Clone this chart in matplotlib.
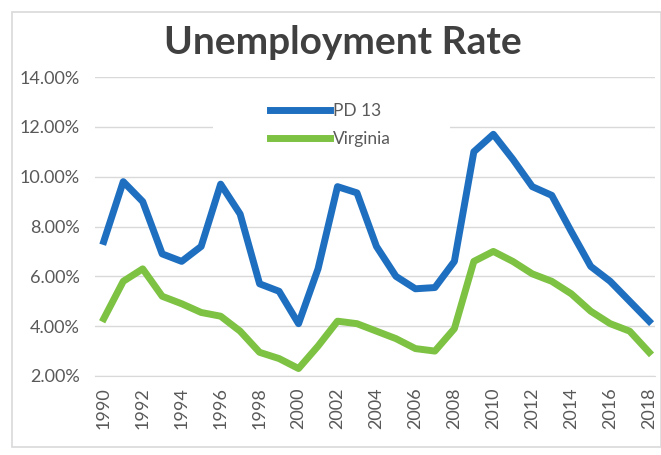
import numpy as np
import matplotlib.pyplot as plt
from matplotlib.patches import Rectangle
from matplotlib.ticker import FuncFormatter

plt.rcParams['font.family'] = ['Lato', 'DejaVu Sans']

years = list(range(1990, 2019))
pd13 = [7.4, 9.8, 9.0, 6.9, 6.6, 7.2, 9.7, 8.5, 5.7, 5.4, 4.1, 6.3, 9.6, 9.35,
        7.2, 6.0, 5.5, 5.55, 6.6, 11.0, 11.7, 10.7, 9.6, 9.25, 7.8, 6.4, 5.8,
        5.0, 4.2]
virginia = [4.3, 5.8, 6.3, 5.2, 4.9, 4.55, 4.4, 3.8, 2.95, 2.7, 2.3, 3.2, 4.2,
            4.1, 3.8, 3.5, 3.1, 3.0, 3.9, 6.6, 7.0, 6.6, 6.1, 5.8, 5.3, 4.6,
            4.1, 3.8, 2.95]

fig = plt.figure(figsize=(6.61, 4.55), dpi=100)
fig.patches.append(Rectangle((12 / 661, 8 / 455), 1 - 12 / 661, 1 - 20 / 455,
                             transform=fig.transFigure, fill=False,
                             edgecolor='#d9d9d9', linewidth=1.2))
ax = fig.add_axes([95 / 661, 1 - 376 / 455, (655 - 95) / 661, (376 - 77) / 455])

ax.plot(years, pd13, color='#1f6fc0', linewidth=5, label='PD 13', solid_joinstyle='round')
ax.plot(years, virginia, color='#7dc242', linewidth=5, label='Virginia', solid_joinstyle='round')

ax.set_xlim(1989.55, 2018.3)
ax.set_ylim(2, 14)
ax.set_yticks(np.arange(2, 15, 2))
ax.yaxis.set_major_formatter(FuncFormatter(lambda v, p: f'{v:.2f}%'))
ax.set_xticks(range(1990, 2019, 2))
ax.tick_params(axis='x', labelrotation=90, length=0, labelsize=13, labelcolor='#595959', pad=8)
ax.tick_params(axis='y', length=0, labelsize=13, labelcolor='#595959', pad=11)
ax.grid(axis='y', color='#d9d9d9', linewidth=1)
ax.set_axisbelow(True)
for s in ['top', 'right', 'left']:
    ax.spines[s].set_visible(False)
ax.spines['bottom'].set_color('#d9d9d9')

# white legend area hiding the gridline behind it
ax.add_patch(Rectangle((0.211, 0.76), 0.423, 0.2, transform=ax.transAxes,
                       facecolor='white', edgecolor='none', zorder=1))
leg = ax.legend(loc='upper left', bbox_to_anchor=(0.29, 0.955), frameon=False, fontsize=12.5,
                handlelength=3.5, handletextpad=0.15, labelspacing=0.7, borderpad=0.2)
for t in leg.get_texts():
    t.set_color('#595959')

fig.text(0.518, 1 - 54 / 455, 'Unemployment Rate', ha='center', va='baseline', fontsize=28,
         fontweight='bold', color='#404040')

fig.savefig('out.png', dpi=100)
